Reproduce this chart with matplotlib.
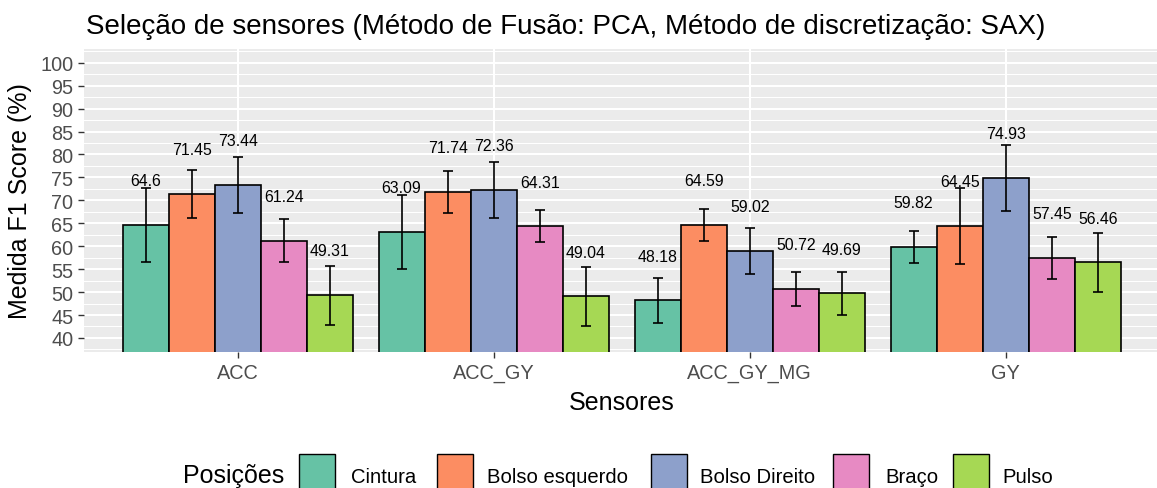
import matplotlib
matplotlib.use("Agg")
import matplotlib.pyplot as plt
from matplotlib.patches import Rectangle
import numpy as np

plt.rcParams['font.family'] = ['Liberation Sans', 'DejaVu Sans']

# Data
sensores = ["ACC", "ACC_GY", "ACC_GY_MG", "GY"]
posicoes = ["Cintura", "Bolso esquerdo", "Bolso Direito", "Braço", "Pulso"]
cores = ["#66C2A5", "#FC8D62", "#8DA0CB", "#E78AC3", "#A6D854"]

# F1 mean per sensor set (rows) and position (columns)
f1_media = [
    [64.60, 71.45, 73.44, 61.24, 49.31],
    [63.09, 71.74, 72.36, 64.31, 49.04],
    [48.18, 64.59, 59.02, 50.72, 49.69],
    [59.82, 64.45, 74.93, 57.45, 56.46],
]
# Standard deviation per sensor set and position
f1_desvio = [
    [8.00, 5.20, 6.10, 4.60, 6.40],
    [8.00, 4.60, 6.10, 3.50, 6.50],
    [4.85, 3.50, 5.00, 3.75, 4.70],
    [3.50, 8.35, 7.20, 4.60, 6.50],
]
yticks = list(range(40, 101, 5))

W, H = 1157, 489
fig = plt.figure(figsize=(W / 100, H / 100), dpi=100)

def fx(px):
    return px / W

def fy(py):
    return (H - py) / H

ax = fig.add_axes([fx(84.1), fy(352.7), fx(1075.2), (352.7 - 50) / H])
ax.set_facecolor("#EBEBEB")
for s in ax.spines.values():
    s.set_visible(False)

media = np.array(f1_media)
desvio = np.array(f1_desvio)
n_pos = len(posicoes)
largura = 0.9 / n_pos
x = np.arange(len(sensores))

for j, (pos, cor) in enumerate(zip(posicoes, cores)):
    xs = x + (j - (n_pos - 1) / 2) * largura
    ax.bar(xs, media[:, j], width=largura, color=cor, edgecolor="black",
           linewidth=1.2, zorder=3)
    ax.errorbar(xs, media[:, j], yerr=desvio[:, j], fmt="none", ecolor="black",
                elinewidth=1.2, capsize=3.5, capthick=1.2, zorder=4)
    for xi, v in zip(xs, media[:, j]):
        ax.text(xi, v + 8.7, f"{v:g}", ha="center", va="baseline",
                fontsize=11.4, color="black", zorder=5)

ax.set_xlim(-0.6, len(sensores) - 0.4)
ax.set_ylim(37, 103)
ax.set_yticks(yticks)
ax.set_yticks(np.arange(37.5, 103, 5), minor=True)
ax.set_xticks(x)
ax.set_xticklabels(sensores)

ax.grid(which="major", axis="both", color="white", linewidth=1.5, zorder=0)
ax.grid(which="minor", axis="y", color="white", linewidth=0.75, zorder=0)
ax.set_axisbelow(True)

ax.tick_params(axis="both", which="major", length=4.3, width=1.0,
               color="#333333", labelcolor="#4D4D4D", labelsize=14.3, pad=3.5)
ax.tick_params(axis="y", which="minor", length=0)

ax.set_xlabel("Sensores", fontsize=18, labelpad=6)
ax.set_ylabel("Medida F1 Score (%)", fontsize=18, labelpad=6)

fig.text(fx(86), fy(34.3), "Seleção de sensores (Método de Fusão: PCA, Método de discretização: SAX)",
         fontsize=20, ha="left", va="baseline")

# Legend drawn along the bottom
fig.text(fx(183), fy(483.3), "Posições", fontsize=18, ha="left", va="baseline")
caixas = [299.3, 436.7, 651.0, 833.3, 952.7]
textos = [351.0, 486.7, 700.0, 885.0, 1002.0]
for pos, cor, bx, tx in zip(posicoes, cores, caixas, textos):
    fig.add_artist(Rectangle((fx(bx), fy(491)), fx(36), 36 / H, facecolor=cor,
                             edgecolor="black", linewidth=1.0,
                             transform=fig.transFigure))
    fig.text(fx(tx), fy(483.3), pos, fontsize=14.6, ha="left", va="baseline")

fig.savefig("out.png", dpi=100, facecolor="white")
